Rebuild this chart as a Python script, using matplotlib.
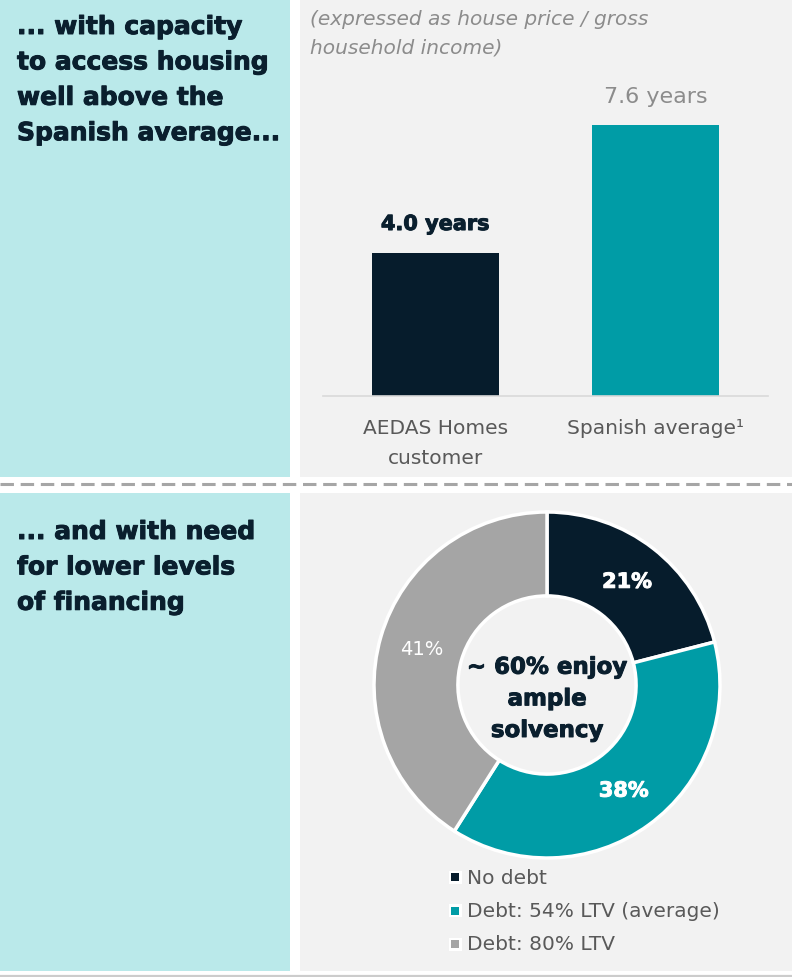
import matplotlib.pyplot as plt
from matplotlib.patches import Rectangle
import matplotlib.patheffects as pe
import numpy as np

# data
heading_top = "... with capacity\nto access housing\nwell above the\nSpanish average..."
heading_bottom = "... and with need\nfor lower levels\nof financing"
subtitle = "(expressed as house price / gross\nhousehold income)"

bar_labels = ["AEDAS Homes\ncustomer", "Spanish average\u00b9"]
bar_values = [4.0, 7.6]
bar_colors = ["#061c2c", "#009ca6"]

pie_labels = ["No debt", "Debt: 54% LTV (average)", "Debt: 80% LTV"]
pie_values = [21, 38, 41]
pie_colors = ["#061c2c", "#009ca6", "#a5a5a5"]
centre_text = "~ 60% enjoy\nample\nsolvency"

W, H = 792, 978
DARK = "#0a1f2e"
plt.rcParams['font.family'] = ['DejaVu Sans']


def heavy(c):
    # thicken bold glyphs a bit, the original uses a very heavy face
    return [pe.withStroke(linewidth=0.7, foreground=c)]


fig = plt.figure(figsize=(W / 100, H / 100), dpi=100)
fig.patch.set_facecolor("white")


def px(left, top, w, h):
    return [left / W, 1 - (top + h) / H, w / W, h / H]


# background layer in pixel coords
bg = fig.add_axes([0, 0, 1, 1])
bg.set_xlim(0, W)
bg.set_ylim(H, 0)
bg.axis("off")
bg.set_zorder(0)

for (x, y, w, h, c) in [(0, 0, 290, 478, "#bae9ea"), (300, 0, 492, 478, "#f2f2f2"),
                        (0, 494, 290, 478, "#bae9ea"), (300, 494, 492, 478, "#f2f2f2")]:
    bg.add_patch(Rectangle((x, y), w, h, facecolor=c, edgecolor="none"))

bg.plot([0, W], [485, 485], color="#a6a6a6", lw=2.2, linestyle=(0, (4.4, 2.2)),
        solid_capstyle="butt", dash_capstyle="butt")
bg.plot([0, W], [977, 977], color="#cccccc", lw=1.6)

bg.text(17, 16, heading_top, fontsize=18, fontweight="bold", color=DARK,
        va="top", ha="left", linespacing=1.6, path_effects=heavy(DARK))
bg.text(17, 521, heading_bottom, fontsize=18, fontweight="bold", color=DARK,
        va="top", ha="left", linespacing=1.6, path_effects=heavy(DARK))
bg.text(310, 10, subtitle, fontsize=14.5, style="italic", color="#8c8c8c",
        va="top", ha="left", linespacing=1.63)

# bar chart
ax = fig.add_axes(px(323, 40, 445, 357))
ax.set_facecolor("none")
x = np.arange(len(bar_values))
ax.bar(x, bar_values, width=0.576, color=bar_colors)
ax.set_xlim(-0.51, 1.51)
ax.set_ylim(0, 10)
for s in ["top", "right", "left"]:
    ax.spines[s].set_visible(False)
ax.spines["bottom"].set_color("#d9d9d9")
ax.spines["bottom"].set_linewidth(1.2)
ax.set_yticks([])
ax.set_xticks(x, bar_labels, fontsize=14.5, color="#595959", linespacing=1.75)
ax.tick_params(axis="x", length=0, pad=15.5)
for i, v in enumerate(bar_values):
    if i == 0:
        ax.annotate(f"{v:.1f} years", (i, v), xytext=(0, 21), textcoords="offset points",
                    ha="center", va="center", fontsize=15, fontweight="bold", color=DARK,
                    path_effects=heavy(DARK))
    else:
        ax.annotate(f"{v:.1f} years", (i, v), xytext=(0, 21), textcoords="offset points",
                    ha="center", va="center", fontsize=16, color="#8c8c8c")

# donut
pax = fig.add_axes(px(374, 513, 346, 346))
pax.set_facecolor("none")
wedges, texts, autotexts = pax.pie(
    pie_values, colors=pie_colors, startangle=90, counterclock=False, radius=1,
    autopct=lambda p: f"{p:.0f}%", pctdistance=0.755,
    wedgeprops=dict(width=0.485, edgecolor="white", linewidth=2.5))
for i, t in enumerate(autotexts):
    t.set_color("white")
    t.set_fontsize(15 if i < 2 else 14)
    if i < 2:
        t.set_fontweight("bold")
        t.set_path_effects(heavy("white"))
pax.text(0, -0.08, centre_text, ha="center", va="center", fontsize=16.5,
         fontweight="bold", color=DARK, linespacing=1.48, path_effects=heavy(DARK))
pax.set_xlim(-1, 1)
pax.set_ylim(-1, 1)
pax.set_aspect("equal")

# legend
for i, (lab, c) in enumerate(zip(pie_labels, pie_colors)):
    yy = 878 + i * 33.5
    bg.add_patch(Rectangle((448.5, yy - 6.5), 13, 13, facecolor="white", edgecolor="none"))
    bg.add_patch(Rectangle((451, yy - 4), 8, 8, facecolor=c, edgecolor="none"))
    bg.text(467, yy, lab, fontsize=14.5, color="#595959", va="center", ha="left")

fig.savefig("out.png", dpi=100)
